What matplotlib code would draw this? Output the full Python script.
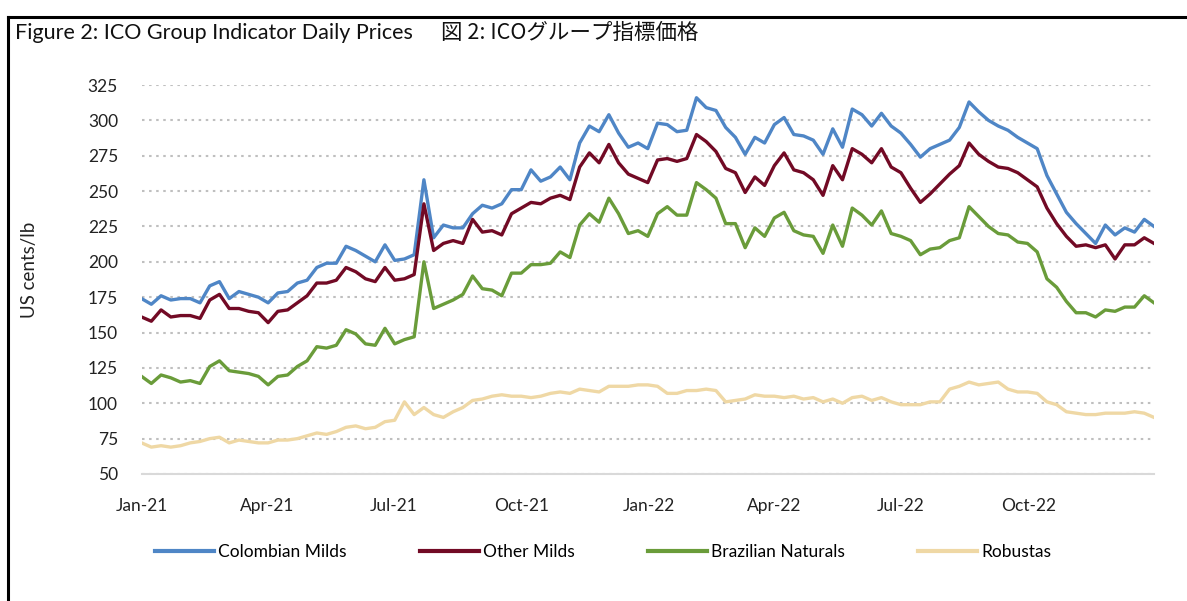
import matplotlib
matplotlib.use("Agg")
import matplotlib.pyplot as plt
import matplotlib.dates as mdates
import pandas as pd
from matplotlib.lines import Line2D

# ---- data (weekly readings, US cents/lb) ----
dates = pd.date_range("2021-01-01", periods=105, freq="7D")

colombian_milds = [
    174, 170, 176, 173, 174, 174, 171, 183, 186, 174, 179, 177, 175, 171, 178,
    179, 185, 187, 196, 199, 199, 211, 208, 204, 200, 212, 201, 202, 205, 258,
    217, 226, 224, 224, 234, 240, 238, 241, 251, 251, 265, 257, 260, 267, 258,
    284, 296, 292, 304, 291, 281, 284, 280, 298, 297, 292, 293, 316, 309, 307,
    295, 288, 276, 288, 284, 297, 302, 290, 289, 286, 276, 294, 281, 308, 304,
    296, 305, 296, 291, 283, 274, 280, 283, 286, 295, 313, 306, 300, 296, 293,
    288, 284, 280, 261, 248, 235, 227, 220, 213, 226, 219, 224, 221, 230, 225,
]
other_milds = [
    161, 158, 166, 161, 162, 162, 160, 173, 177, 167, 167, 165, 164, 157, 165,
    166, 171, 176, 185, 185, 187, 196, 193, 188, 186, 196, 187, 188, 191, 241,
    208, 213, 215, 213, 230, 221, 222, 219, 234, 238, 242, 241, 245, 247, 244,
    267, 277, 270, 283, 270, 262, 259, 256, 272, 273, 271, 273, 290, 285, 278,
    266, 263, 249, 260, 254, 268, 277, 265, 263, 258, 247, 268, 258, 280, 276,
    270, 280, 267, 263, 252, 242, 248, 255, 262, 268, 284, 276, 271, 267, 266,
    263, 258, 253, 238, 227, 218, 211, 212, 210, 212, 202, 212, 212, 217, 213,
]
brazilian_naturals = [
    119, 114, 120, 118, 115, 116, 114, 126, 130, 123, 122, 121, 119, 113, 119,
    120, 126, 130, 140, 139, 141, 152, 149, 142, 141, 153, 142, 145, 147, 200,
    167, 170, 173, 177, 190, 181, 180, 176, 192, 192, 198, 198, 199, 207, 203,
    226, 234, 228, 245, 234, 220, 222, 218, 234, 239, 233, 233, 256, 251, 245,
    227, 227, 210, 224, 218, 231, 235, 222, 219, 218, 206, 226, 211, 238, 233,
    226, 236, 220, 218, 215, 205, 209, 210, 215, 217, 239, 232, 225, 220, 219,
    214, 213, 207, 188, 182, 172, 164, 164, 161, 166, 165, 168, 168, 176, 171,
]
robustas = [
    72, 69, 70, 69, 70, 72, 73, 75, 76, 72, 74, 73, 72, 72, 74,
    74, 75, 77, 79, 78, 80, 83, 84, 82, 83, 87, 88, 101, 92, 97,
    92, 90, 94, 97, 102, 103, 105, 106, 105, 105, 104, 105, 107, 108, 107,
    110, 109, 108, 112, 112, 112, 113, 113, 112, 107, 107, 109, 109, 110, 109,
    101, 102, 103, 106, 105, 105, 104, 105, 103, 104, 101, 103, 100, 104, 105,
    102, 104, 101, 99, 99, 99, 101, 101, 110, 112, 115, 113, 114, 115, 110,
    108, 108, 107, 101, 99, 94, 93, 92, 92, 93, 93, 93, 94, 93, 90,
]

series_names = ["Colombian Milds", "Other Milds", "Brazilian Naturals", "Robustas"]
series_values = [colombian_milds, other_milds, brazilian_naturals, robustas]
series_colors = ["#4F86C6", "#720A25", "#6A9C3A", "#EFD8A5"]

tick_dates = pd.to_datetime(["2021-01-01", "2021-04-01", "2021-07-01", "2021-10-01",
                             "2022-01-01", "2022-04-01", "2022-07-01", "2022-10-01"])
tick_labels = ["Jan-21", "Apr-21", "Jul-21", "Oct-21", "Jan-22", "Apr-22", "Jul-22", "Oct-22"]
y_ticks = [50, 75, 100, 125, 150, 175, 200, 225, 250, 275, 300, 325]

title_en = "Figure 2: ICO Group Indicator Daily Prices"
title_jp = "図 2: ICOグループ指標価格"
y_label = "US cents/lb"

# ---- figure ----
W, H = 1187, 601
fig = plt.figure(figsize=(W / 100, H / 100), dpi=100)
fig.patch.set_facecolor("white")

def fx(px):
    return px / W

def fy(py):
    return 1 - py / H

# frame lines (top and left)
fig.add_artist(Line2D([fx(8), 1.0], [fy(17), fy(17)], color="black", lw=2.2))
fig.add_artist(Line2D([fx(8), fx(8)], [fy(17), 0.0], color="black", lw=2.2))

fig.text(fx(15), fy(33), title_en, fontsize=15.5, family=["Lato", "DejaVu Sans"],
         va="center", ha="left", color="#111111")
fig.text(fx(441), fy(33), title_jp, fontsize=15.5, family=["Noto Sans CJK JP", "DejaVu Sans"],
         va="center", ha="left", color="#111111")

ax_left, ax_right, ax_top, ax_bottom = 141.6, 1154, 85, 474
ax = fig.add_axes([fx(ax_left), fy(ax_bottom), fx(ax_right - ax_left), (ax_bottom - ax_top) / H])

for name, vals, col in zip(series_names, series_values, series_colors):
    ax.plot(dates, vals, color=col, lw=2.4, label=name, solid_joinstyle="round")

ax.set_ylim(50, 325)
ax.set_xlim(dates[0], dates[-1])
ax.set_yticks(y_ticks)
ax.set_xticks(tick_dates)
ax.set_xticklabels(tick_labels)
for s in ["top", "right", "left"]:
    ax.spines[s].set_visible(False)
ax.spines["bottom"].set_color("#D9D9D9")
ax.spines["bottom"].set_linewidth(1.5)
ax.tick_params(axis="both", length=0, labelsize=12.5, colors="#222222")
ax.tick_params(axis="y", pad=17)
ax.tick_params(axis="x", pad=17)
for lab in ax.get_xticklabels() + ax.get_yticklabels():
    lab.set_family(["Lato", "DejaVu Sans"])
ax.grid(axis="y", color="#BFBFBF", linestyle=(0, (1.2, 2.2)), linewidth=1.5)
ax.set_axisbelow(True)

fig.text(fx(30), fy(270), y_label, rotation=90, fontsize=13.5, family=["Lato", "DejaVu Sans"],
         va="center", ha="center", color="#222222")

handles = [Line2D([0], [0], color=c, lw=3) for c in series_colors]
fig.legend(handles, series_names, loc="center", bbox_to_anchor=(fx(603), fy(552)),
           ncol=4, frameon=False, handlelength=3.4, handletextpad=0.25, columnspacing=4.2,
           prop={"family": ["Lato", "DejaVu Sans"], "size": 12.5})

fig.savefig("out.png", dpi=100)
